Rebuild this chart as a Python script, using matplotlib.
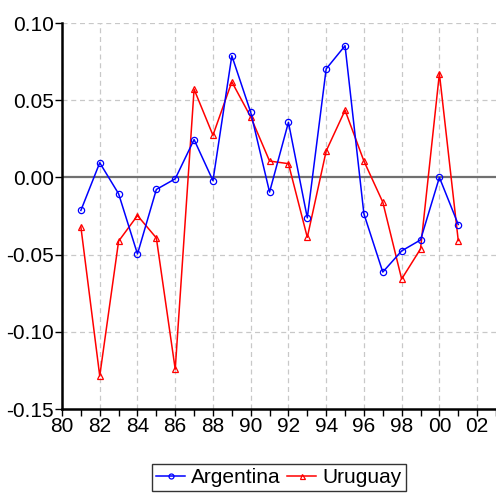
import matplotlib
matplotlib.use("Agg")
import matplotlib.pyplot as plt

# annual data, 1981-2001
years = list(range(1981, 2002))
argentina = [-0.0214, 0.0095, -0.0106, -0.0496, -0.0078, -0.0009, 0.0245, -0.0021,
             0.0788, 0.0422, -0.0095, 0.0357, -0.0262, 0.0703, 0.0853, -0.0236,
             -0.0613, -0.0476, -0.0405, 0.0000, -0.0305]
uruguay = [-0.0320, -0.1286, -0.0413, -0.0247, -0.0392, -0.1242, 0.0571, 0.0273,
           0.0619, 0.0392, 0.0106, 0.0089, -0.0388, 0.0171, 0.0435, 0.0106,
           -0.0160, -0.0658, -0.0463, 0.0673, -0.0409]
y_ticks = [-0.15, -0.10, -0.05, 0.00, 0.05, 0.10]
x_label_years = list(range(1980, 2003, 2))

plt.rcParams['font.family'] = ['Liberation Sans', 'DejaVu Sans']

fig = plt.figure(figsize=(4.96, 4.95), dpi=100)
ax = fig.add_axes([0.125, 0.1737, 0.875, 0.7798])

# grid
for x in x_label_years:
    ax.axvline(x, color='#c8c8c8', lw=0.9, ls=(0, (4, 3)), zorder=0)
for y in y_ticks[1:]:
    if y != 0:
        ax.axhline(y, color='#c8c8c8', lw=0.9, ls=(0, (4, 3)), zorder=0)
ax.axhline(0, color='#707070', lw=1.6, zorder=1)

ax.plot(years, argentina, color='blue', lw=1.1, marker='o', ms=4.5,
        mfc='none', mec='blue', mew=0.9, label='Argentina', zorder=3)
ax.plot(years, uruguay, color='red', lw=1.1, marker='^', ms=4.5,
        mfc='none', mec='red', mew=0.9, label='Uruguay', zorder=2)

ax.set_xlim(1980, 2003)
ax.set_ylim(-0.15, 0.10)
ax.set_yticks(y_ticks)
ax.set_yticklabels([f"{v:.2f}" for v in y_ticks])
ax.set_xticks(x_label_years)
ax.set_xticklabels([f"{y % 100:02d}" for y in x_label_years])
ax.set_xticks(range(1980, 2004), minor=True)

for s in ['top', 'right']:
    ax.spines[s].set_visible(False)
for s in ['left', 'bottom']:
    ax.spines[s].set_linewidth(1.8)
ax.tick_params(axis='both', which='major', direction='out', length=5, width=1,
               labelsize=15, pad=1)
ax.tick_params(axis='x', which='minor', direction='out', length=5, width=1)

leg = fig.legend(loc='upper center', bbox_to_anchor=(0.5625, 1 - 464 / 495),
                 ncol=2, fontsize=15, frameon=True, fancybox=False,
                 edgecolor='black', handlelength=1.4, handletextpad=0.3,
                 columnspacing=0.3, borderpad=0.2, borderaxespad=0,
                 markerscale=0.8)
leg.get_frame().set_linewidth(1.0)

fig.savefig("out.png", dpi=100)
